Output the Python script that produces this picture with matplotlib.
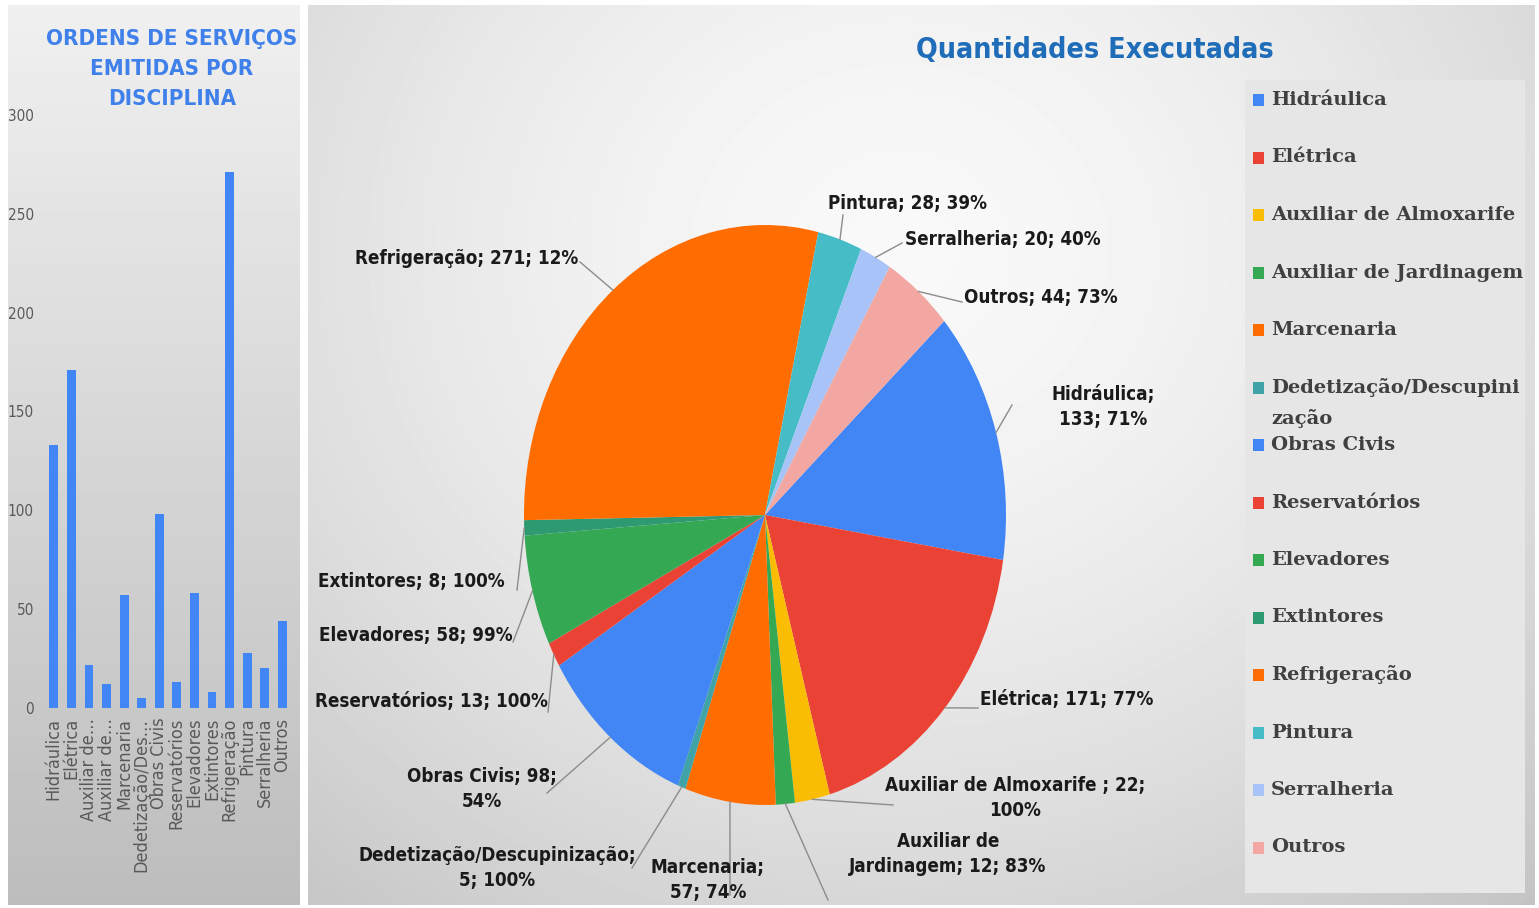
import textwrap
import numpy as np
import matplotlib
matplotlib.use('Agg')
import matplotlib.pyplot as plt
from matplotlib.lines import Line2D
from matplotlib.patches import Rectangle

# ---- data ----
categories = ['Hidráulica', 'Elétrica', 'Auxiliar de Almoxarife ', 'Auxiliar de Jardinagem',
              'Marcenaria', 'Dedetização/Descupinização', 'Obras Civis', 'Reservatórios',
              'Elevadores', 'Extintores', 'Refrigeração', 'Pintura', 'Serralheria', 'Outros']
bar_ticks = ['Hidráulica', 'Elétrica', 'Auxiliar de…', 'Auxiliar de…', 'Marcenaria',
             'Dedetização/Des…', 'Obras Civis', 'Reservatórios', 'Elevadores', 'Extintores',
             'Refrigeração', 'Pintura', 'Serralheria', 'Outros']
legend_names = ['Hidráulica', 'Elétrica', 'Auxiliar de Almoxarife', 'Auxiliar de Jardinagem',
                'Marcenaria', 'Dedetização/Descupini\nzação', 'Obras Civis', 'Reservatórios',
                'Elevadores', 'Extintores', 'Refrigeração', 'Pintura', 'Serralheria', 'Outros']
quantities = [133, 171, 22, 12, 57, 5, 98, 13, 58, 8, 271, 28, 20, 44]
executed_pct = [71, 77, 100, 83, 74, 100, 54, 100, 99, 100, 12, 39, 40, 73]
yticks = [0, 50, 100, 150, 200, 250, 300]

colors = ['#4285F4', '#EA4335', '#FBBC04', '#34A853', '#FF6D01', '#3FA3A8', '#4285F4',
          '#EA4335', '#34A853', '#2E9A72', '#FF6D01', '#46BDC6', '#A8C3F7', '#F2A7A2']

NARROW = dict(family=['DejaVu Sans'], stretch='condensed')

W, H = 1539, 908
fig = plt.figure(figsize=(W / 100, H / 100), dpi=100)
fig.patch.set_facecolor('white')


def px(x, y):
    return x / W, 1 - y / H


# ---- backgrounds ----
bg = fig.add_axes([0, 0, 1, 1], zorder=-10)
bg.set_xlim(0, W)
bg.set_ylim(H, 0)
bg.axis('off')
yy = np.linspace(0, 1, 200)[:, None] * np.ones((1, 20))
bg.imshow(0.94 - 0.2 * yy, cmap='gray', vmin=0, vmax=1, extent=(8, 300, 905, 5),
          aspect='auto', interpolation='bicubic')
gx, gy = np.meshgrid(np.linspace(308, 1535, 300), np.linspace(5, 905, 220))
r = np.hypot((gx - 900) / 1000, (gy - 250) / 900)
bg.imshow(0.975 - 0.22 * r ** 1.6, cmap='gray', vmin=0, vmax=1, extent=(308, 1535, 905, 5),
          aspect='auto', interpolation='bicubic')
bg.add_patch(Rectangle((1245, 80), 280, 813, facecolor='#e6e6e6', edgecolor='none'))

# ---- left bar chart ----
axb = fig.add_axes([45 / W, (H - 708) / H, 247 / W, 593 / H])
axb.patch.set_alpha(0)
x = np.arange(len(quantities))
axb.bar(x, quantities, width=0.5, color='#4285F4')
axb.set_xlim(-0.5, 13.55)
axb.set_ylim(0, 300)
axb.set_yticks(yticks)
axb.set_xticks(x)
axb.set_xticklabels(bar_ticks, rotation=90, fontsize=13, color='#595959', **NARROW)
for t in axb.get_yticklabels():
    t.set_fontsize(11)
    t.set_color('#595959')
    t.set_family(['DejaVu Sans'])
    t.set_stretch('condensed')
axb.tick_params(length=0, pad=7)
axb.tick_params(axis='y', pad=8)
for s in axb.spines.values():
    s.set_visible(False)
fig.text(*px(172, 69), 'ORDENS DE SERVIÇOS\nEMITIDAS POR\nDISCIPLINA', ha='center', va='center',
         fontsize=16, fontweight='bold', color='#3F80EA', linespacing=1.6, **NARROW)

# ---- pie chart ----
cx, cy, rx, ry = 765, 515, 241, 290
axp = fig.add_axes([(cx - rx) / W, (H - cy - ry) / H, 2 * rx / W, 2 * ry / H])
wedges, _ = axp.pie(quantities, colors=colors, startangle=42, counterclock=False,
                    wedgeprops=dict(linewidth=0))
axp.set_aspect('auto')
axp.set_xlim(-1, 1)
axp.set_ylim(-1, 1)

fig.text(*px(1095, 50), 'Quantidades Executadas', ha='center', va='center', fontsize=20.5,
         fontweight='bold', color='#1F6DB8', **NARROW)

# label layout: text anchor (px), ha, wrap width, leader end (px)
label_layout = [
    ((1103, 407), 'center', 11, (1012, 405)),
    ((980, 700), 'left', 40, (978, 708)),
    ((1015, 798), 'center', 28, (893, 805)),
    ((948, 854), 'center', 19, (828, 900)),
    ((708, 880), 'center', 11, (730, 895)),
    ((497, 868), 'center', 27, (632, 868)),
    ((482, 789), 'center', 16, (547, 793)),
    ((548, 702), 'right', 40, (548, 712)),
    ((513, 636), 'right', 40, (513, 642)),
    ((505, 581), 'right', 40, (517, 590)),
    ((578, 258), 'right', 40, (580, 262)),
    ((828, 204), 'left', 40, (843, 215)),
    ((905, 240), 'left', 40, (902, 243)),
    ((964, 297), 'left', 40, (962, 302)),
]
to_fig = fig.transFigure.inverted()
for w, name, q, p, (pos, ha, width, end) in zip(wedges, categories, quantities,
                                                 executed_pct, label_layout):
    txt = textwrap.fill(f'{name}; {q}; {p}%', width=width)
    fig.text(*px(*pos), txt, ha=ha, va='center', multialignment='center', fontsize=13.5,
             fontweight='bold', color='#1a1a1a', linespacing=1.35, **NARROW)
    mid = np.deg2rad((w.theta1 + w.theta2) / 2)
    start = to_fig.transform(axp.transData.transform((np.cos(mid), np.sin(mid))))
    stop = px(*end)
    fig.add_artist(Line2D([start[0], stop[0]], [start[1], stop[1]], transform=fig.transFigure,
                          color='#8c8c8c', lw=1))

# ---- legend ----
for i, (name, c) in enumerate(zip(legend_names, colors)):
    y = 100 + 57.5 * i
    fig.patches.append(Rectangle(px(1253, y + 6), 11 / W, 12 / H, transform=fig.transFigure,
                                 facecolor=c, edgecolor='none', figure=fig))
    for k, line in enumerate(name.split('\n')):
        fig.text(*px(1271, y + 31 * k), line, ha='left', va='center', fontsize=14,
                 fontweight='bold', color='#404040', family=['DejaVu Serif'])

fig.savefig('out.png', dpi=100)
